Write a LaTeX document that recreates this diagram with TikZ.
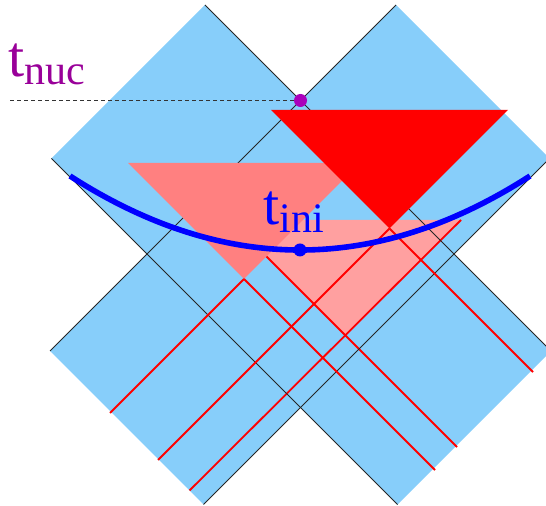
\documentclass[tikz,border=0pt]{standalone}
\usepackage{fontspec}
\setmainfont{Liberation Serif}
\usetikzlibrary{calc}
\definecolor{skyfill}{HTML}{87CEFA}
\definecolor{conepink}{HTML}{FF8080}
\definecolor{conelight}{HTML}{FFA0A0}
\definecolor{nucpurple}{HTML}{990099}
\definecolor{nucdot}{HTML}{AA00BB}
\tikzset{
    strip/.style={fill=skyfill, draw=none},
    edgeline/.style={draw=black!85, line width=0.45pt},
    ray/.style={draw=red, line width=0.9pt},
    slice/.style={draw=blue, line width=2.8pt},
    event/.style={circle, inner sep=0pt, minimum size=6.5pt},
    tlabel/.style={inner sep=0pt, anchor=base west, font=\rmfamily\fontsize{29}{29}\selectfont}
}
\newcommand{\subtext}[1]{\raisebox{-4pt}{\fontsize{21}{21}\selectfont #1}}

\begin{document}
\begin{tikzpicture}[x=0.5pt, y=-0.5pt]

    \useasboundingbox (0,0) rectangle (546,506);

    % ── Strip corners ──
    \coordinate (a1) at (205,5);
    \coordinate (b1) at (551,351);
    \coordinate (c1) at (397.5,504.5);
    \coordinate (d1) at (51.5,158.5);
    \coordinate (a2) at (396,5);
    \coordinate (b2) at (549.5,158.5);
    \coordinate (c2) at (203.5,504.5);
    \coordinate (d2) at (50,351);

    % ── Strips ──
    \begin{scope}
        \clip (0,0) rectangle (546,506);
        \fill[strip] (a1) -- (b1) -- (c1) -- (d1) -- cycle;
        \fill[strip] (a2) -- (b2) -- (c2) -- (d2) -- cycle;
    \end{scope}

    % ── Light cone (light) ──
    \coordinate (lleft)  at (230,220);
    \coordinate (lright) at (461,220);
    \coordinate (ltip)   at (345.5,335);
    \fill[conelight] (lleft) -- (lright) -- (ltip) -- cycle;
    \draw[ray] (lright) -- (189.5,490.5);
    \draw[ray] (lleft)  -- (457,447);

    % ── Strip edges ──
    \draw[edgeline] (a1) -- (b1);
    \draw[edgeline] (d1) -- (c1);
    \draw[edgeline] (a2) -- (d2);
    \draw[edgeline] (b2) -- (c2);

    % ── Light cone (pink) ──
    \coordinate (pleft)  at (128,163);
    \coordinate (pright) at (360,163);
    \coordinate (ptip)   at (244,279);
    \fill[conepink] (pleft) -- (pright) -- (ptip) -- cycle;
    \draw[ray] (ptip) -- (110,413);
    \draw[ray] (ptip) -- (435,470);

    % ── Light cone (red) ──
    \coordinate (rleft)  at (271,110);
    \coordinate (rright) at (508,110);
    \coordinate (rtip)   at (389.5,228.5);
    \fill[red] (rleft) -- (rright) -- (rtip) -- cycle;
    \draw[ray] (rtip) -- (158,460);
    \draw[ray] (rtip) -- (533,372);

    % ── Initial slice ──
    \coordinate (sl) at (70,176);
    \coordinate (sr) at (530,176);
    \draw[slice] (sl) .. controls (223.3,274.7) and (376.7,274.7) .. (sr);
    \node[event, fill=blue] (ini) at (300,250) {};

    % ── Nucleation ──
    \node[event, fill=nucdot] (nuc) at (300.5,100.5) {};
    \coordinate (dashstart) at (10,100.5);
    \draw[black!80, line width=0.5pt, dash pattern=on 2pt off 1.5pt] (dashstart) -- (nuc);

    % ── Labels ──
    \node[tlabel, text=nucpurple] (tnuc) at (8,77)   {t\subtext{nuc}};
    \node[tlabel, text=blue]      (tini) at (263,225) {t\subtext{ini}};

\end{tikzpicture}
\end{document}
